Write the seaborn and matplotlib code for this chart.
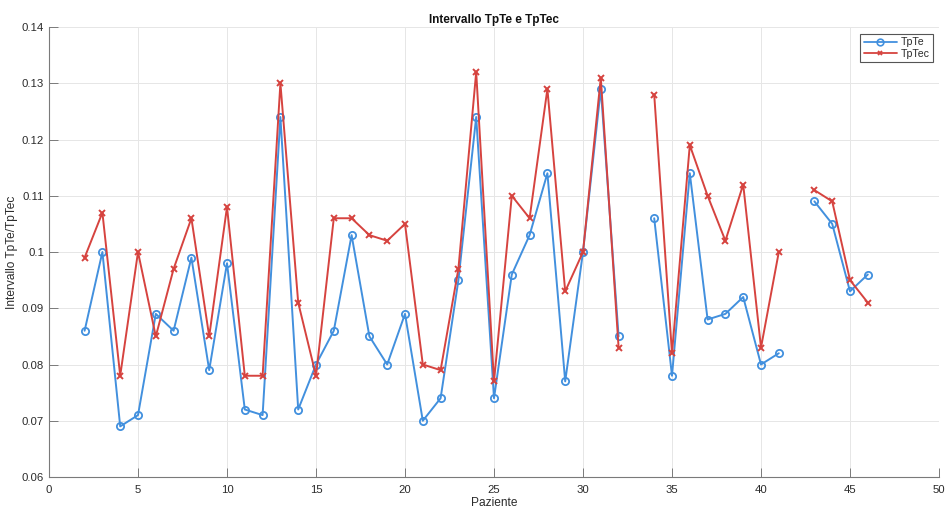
#!/usr/bin/env python
# -*- coding: utf-8 -*-

import numpy as np
import pandas as pd

import matplotlib
matplotlib.use('Agg')
import matplotlib.pyplot as plt
from matplotlib.lines import Line2D
import seaborn as sns

## ===================================================================== ##

paziente = list(range(2, 47))

# nan = missing patient (33 and 42)
tpte = [0.086, 0.100, 0.069, 0.071, 0.089, 0.086, 0.099, 0.079, 0.098, 0.072,
		0.071, 0.124, 0.072, 0.080, 0.086, 0.103, 0.085, 0.080, 0.089, 0.070,
		0.074, 0.095, 0.124, 0.074, 0.096, 0.103, 0.114, 0.077, 0.100, 0.129,
		0.085, np.nan, 0.106, 0.078, 0.114, 0.088, 0.089, 0.092, 0.080, 0.082,
		np.nan, 0.109, 0.105, 0.093, 0.096]

tptec = [0.099, 0.107, 0.078, 0.100, 0.085, 0.097, 0.106, 0.085, 0.108, 0.078,
		0.078, 0.130, 0.091, 0.078, 0.106, 0.106, 0.103, 0.102, 0.105, 0.080,
		0.079, 0.097, 0.132, 0.077, 0.110, 0.106, 0.129, 0.093, 0.100, 0.131,
		0.083, np.nan, 0.128, 0.082, 0.119, 0.110, 0.102, 0.112, 0.083, 0.100,
		np.nan, 0.111, 0.109, 0.095, 0.091]

yticks = [0.06, 0.07, 0.08, 0.09, 0.1, 0.11, 0.12, 0.13, 0.14]
xticks = [0, 5, 10, 15, 20, 25, 30, 35, 40, 45, 50]

## ===================================================================== ##

c_blue = '#4290DE'
c_red = '#D6433F'
c_axis = '#7A7A7A'
c_text = '#2B2B2B'

sns.set_style('whitegrid')
plt.rcParams['font.family'] = ['Liberation Sans', 'DejaVu Sans']

def segments(values):
	# split into contiguous runs so nan gaps are not bridged
	df = pd.DataFrame({'Paziente': paziente, 'val': values})
	df['seg'] = df['val'].isnull().cumsum()
	return df.loc[df['val'].notnull(), :]

df_te = segments(tpte)
df_tec = segments(tptec)

fig = plt.figure(figsize=(9.5, 5.11), dpi=100)
ax = fig.add_axes([49/950., 1 - 477/511., (939-49)/950., (477-27)/511.])

sns.lineplot(data=df_te, x='Paziente', y='val', units='seg', estimator=None,
			 color=c_blue, lw=1.4, marker='o', markersize=5.2, markerfacecolor='none',
			 markeredgecolor=c_blue, markeredgewidth=1.3, legend=False, ax=ax, zorder=3)
sns.lineplot(data=df_tec, x='Paziente', y='val', units='seg', estimator=None,
			 color=c_red, lw=1.4, marker='x', markersize=3.8,
			 markeredgecolor=c_red, markeredgewidth=1.4, legend=False, ax=ax, zorder=3)

ax.set_xlim(0, 50)
ax.set_ylim(0.06, 0.14)
ax.set_xticks(xticks)
ax.set_yticks(yticks)
ax.set_yticklabels(['{0:g}'.format(v) for v in yticks])
ax.grid(True, color='#E6E6E6', lw=0.7)
ax.set_axisbelow(True)

ax.tick_params(axis='both', direction='in', length=6.5, width=0.7, colors=c_axis,
			   labelsize=8.2, labelcolor=c_text)
ax.tick_params(axis='x', bottom=True, pad=5.5)
ax.tick_params(axis='y', left=True, pad=3.5)

for side in ['top', 'right']:
	ax.spines[side].set_visible(False)
for side in ['left', 'bottom']:
	ax.spines[side].set_color(c_axis)
	ax.spines[side].set_linewidth(0.8)

ax.set_xlabel('Paziente', fontsize=8.6, color=c_text, labelpad=2)
ax.set_ylabel('Intervallo TpTe/TpTec', fontsize=8.6, color=c_text, labelpad=3)
ax.set_title('Intervallo TpTe e TpTec', fontsize=8.5, fontweight='bold', color='#111111', pad=3)

handles = [Line2D([], [], color=c_blue, lw=1.3, marker='o', markersize=4.8, markerfacecolor='none',
				  markeredgewidth=1.2),
		   Line2D([], [], color=c_red, lw=1.3, marker='x', markersize=3.5, markeredgewidth=1.3)]
leg = ax.legend(handles, ['TpTe', 'TpTec'], loc='upper right', bbox_to_anchor=(0.9933, 0.985),
				fontsize=7.6, frameon=True, fancybox=False, framealpha=1, handlelength=3.2,
				handletextpad=0.3, borderpad=0.35, labelspacing=0.12, borderaxespad=0)
leg.get_frame().set_edgecolor('#555555')
leg.get_frame().set_linewidth(0.8)
for t in leg.get_texts():
	t.set_color(c_text)

fig.savefig('out.png', dpi=100, facecolor='white')
